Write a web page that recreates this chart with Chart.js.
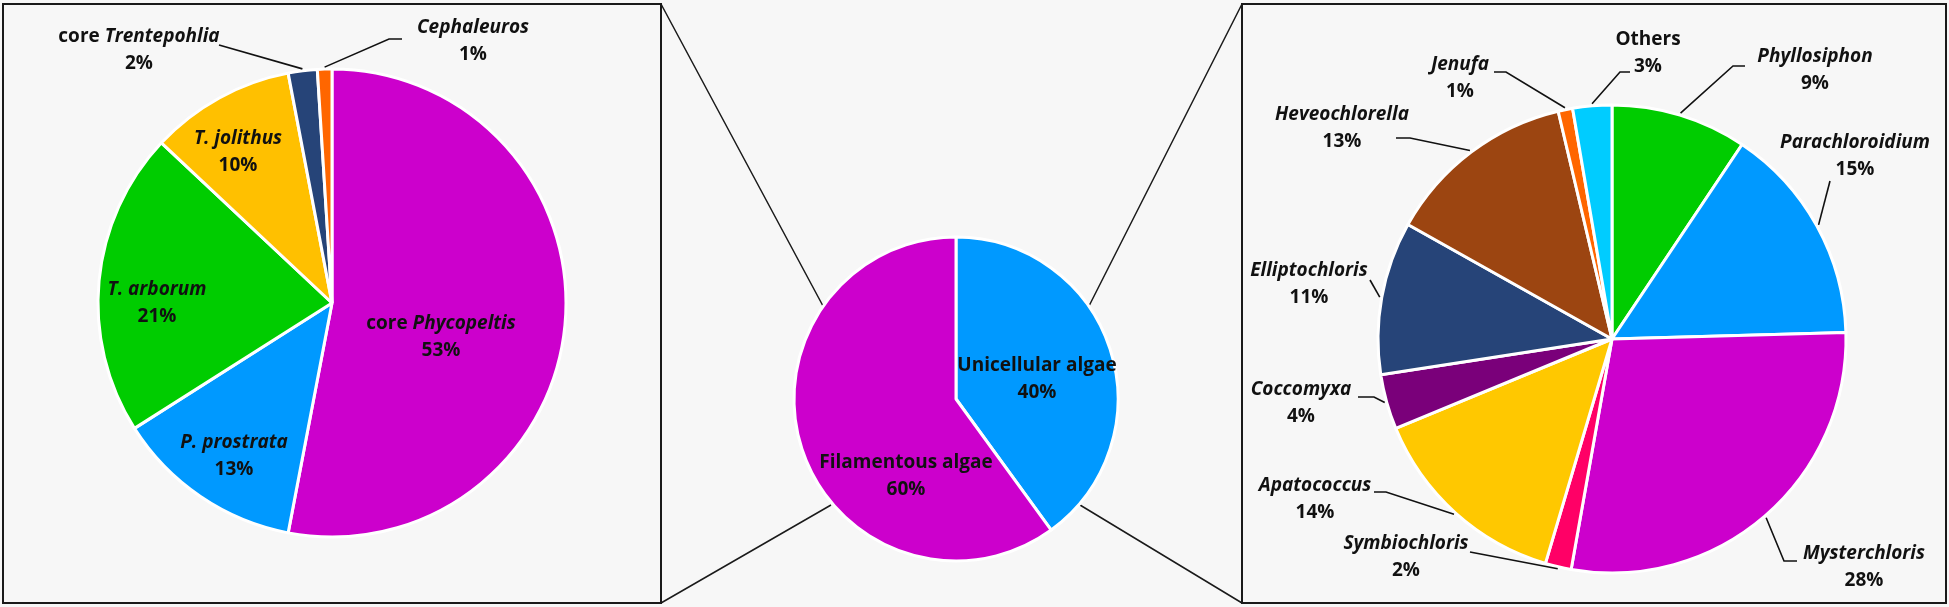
<!DOCTYPE html>
<html><head><meta charset="utf-8">
<script src="https://cdn.jsdelivr.net/npm/chart.js@4.4.1/dist/chart.umd.min.js"></script>
<style>
html,body{margin:0;padding:0;background:#f7f7f7;width:1949px;height:607px;overflow:hidden}
canvas{position:absolute;left:0;top:0}
</style></head><body>
<canvas id="cFrame" width="1949" height="607"></canvas>
<canvas id="cLeft" width="1949" height="607"></canvas>
<canvas id="cCenter" width="1949" height="607"></canvas>
<canvas id="cRight" width="1949" height="607"></canvas>
<script>
// ---------- DATA ----------
const centerLabels = ['Unicellular algae', 'Filamentous algae'];
const centerValues = [40, 60];

const leftLabels = ['core *Phycopeltis*', '*P. prostrata*', '*T. arborum*', '*T. jolithus*', 'core *Trentepohlia*', '*Cephaleuros*'];
const leftValues = [53, 13, 21, 10, 2, 1];

const rightLabels = ['*Phyllosiphon*', '*Parachloroidium*', '*Mysterchloris*', '*Symbiochloris*', '*Apatococcus*', '*Coccomyxa*', '*Elliptochloris*', '*Heveochlorella*', '*Jenufa*', 'Others'];
const rightValues = [9.4, 15.2, 28.3, 1.8, 14.2, 3.8, 10.6, 13.2, 1.0, 2.7];

// ---------- STYLE / LAYOUT ----------
const W = 1949, H = 607;
const centerColors = ['#0099ff', '#cc00cc'];
const leftColors = ['#cc00cc', '#0099ff', '#00cc00', '#ffc000', '#264478', '#ff6600'];
const rightColors = ['#00cc00', '#0099ff', '#cc00cc', '#ff0066', '#ffc800', '#7a007a', '#264478', '#9c4511', '#ff6600', '#00ccff'];

const FONT_FAMILY = '"Open Sans", Lato, sans-serif';
const FONT_SIZE = 19;
const LINE_GAP = 27;

const leftLayout = {
  cx: 332, cy: 303, r: 234,
  pos: [[441, 324], [234, 443], [157, 290], [238, 139], [139, 37], [473, 28]],
  leaders: [null, null, null, null, [[219, 45]], [[402, 39], [389, 39]]]
};
const centerLayout = {
  cx: 956, cy: 399, r: 162,
  pos: [[1037, 366], [906, 463]],
  leaders: [null, null]
};
const rightLayout = {
  cx: 1612, cy: 339, r: 234,
  pos: [[1815, 57], [1855, 143], [1864, 554], [1406, 544], [1315, 486], [1301, 390], [1309, 271], [1342, 115], [1460, 65], [1648, 40]],
  leaders: [
    [[1745, 66], [1733, 66]],
    [[1830, 181]],
    [[1797, 561], [1784, 561]],
    [[1470, 552]],
    [[1374, 492], [1386, 492]],
    [[1358, 397], [1374, 397]],
    [[1370, 280]],
    [[1396, 138], [1410, 138]],
    [[1494, 72], [1506, 72]],
    [[1630, 72], [1620, 72]]
  ]
};

function segments(raw) {
  const parts = raw.split('*');
  const out = [];
  parts.forEach((p, i) => { if (p.length) out.push({ text: p, italic: i % 2 === 1 }); });
  return out;
}
function fontFor(italic) {
  return (italic ? 'italic ' : '') + 'bold ' + FONT_SIZE + 'px ' + FONT_FAMILY;
}
function drawSegText(ctx, segs, cx, cy) {
  let total = 0;
  segs.forEach(s => { ctx.font = fontFor(s.italic); s.w = ctx.measureText(s.text).width; total += s.w; });
  let x = cx - total / 2;
  ctx.textAlign = 'left';
  segs.forEach(s => { ctx.font = fontFor(s.italic); ctx.fillText(s.text, x, cy); x += s.w; });
}

const labelPlugin = {
  id: 'pieLabels',
  afterDatasetsDraw(chart, args, opts) {
    const ctx = chart.ctx;
    const meta = chart.getDatasetMeta(0);
    const values = chart.data.datasets[0].data;
    ctx.save();
    ctx.fillStyle = '#111';
    ctx.textBaseline = 'middle';
    ctx.strokeStyle = '#111';
    ctx.lineWidth = 1.6;
    meta.data.forEach((arc, i) => {
      const p = opts.pos[i];
      const lead = opts.leaders[i];
      if (lead) {
        const a = arc.getProps(['x', 'y', 'startAngle', 'endAngle', 'outerRadius'], true);
        const mid = (a.startAngle + a.endAngle) / 2;
        const ex = a.x + Math.cos(mid) * (a.outerRadius + 2);
        const ey = a.y + Math.sin(mid) * (a.outerRadius + 2);
        ctx.beginPath();
        ctx.moveTo(lead[0][0], lead[0][1]);
        for (let k = 1; k < lead.length; k++) ctx.lineTo(lead[k][0], lead[k][1]);
        ctx.lineTo(ex, ey);
        ctx.stroke();
      }
      drawSegText(ctx, segments(opts.raw[i]), p[0], p[1]);
      drawSegText(ctx, [{ text: Math.round(values[i]) + '%', italic: false }], p[0], p[1] + LINE_GAP);
    });
    ctx.restore();
  }
};

function makePie(id, labels, values, colors, L) {
  return new Chart(document.getElementById(id), {
    type: 'pie',
    data: {
      labels: labels.map(l => l.replace(/\*/g, '')),
      datasets: [{ data: values, backgroundColor: colors, borderColor: '#ffffff', borderWidth: 3, hoverOffset: 0, offset: 0 }]
    },
    options: {
      responsive: false, animation: false, events: [],
      radius: L.r,
      layout: { padding: { left: L.cx - L.r, right: W - L.cx - L.r, top: L.cy - L.r, bottom: H - L.cy - L.r } },
      plugins: {
        legend: { display: false }, tooltip: { enabled: false }, title: { display: false },
        pieLabels: { raw: labels, pos: L.pos, leaders: L.leaders }
      }
    },
    plugins: [labelPlugin]
  });
}

// frame: boxes and connector lines
(function () {
  const ctx = document.getElementById('cFrame').getContext('2d');
  ctx.strokeStyle = '#1a1a1a';
  ctx.lineWidth = 2;
  ctx.strokeRect(3, 4, 658, 599);
  ctx.strokeRect(1242, 4, 704, 599);
  ctx.lineWidth = 1.5;
  ctx.beginPath();
  ctx.moveTo(661, 4); ctx.lineTo(823, 306);
  ctx.moveTo(661, 603); ctx.lineTo(831, 505);
  ctx.moveTo(1242, 4); ctx.lineTo(1089, 306);
  ctx.moveTo(1242, 603); ctx.lineTo(1080, 505);
  ctx.stroke();
})();

makePie('cLeft', leftLabels, leftValues, leftColors, leftLayout);
makePie('cCenter', centerLabels, centerValues, centerColors, centerLayout);
makePie('cRight', rightLabels, rightValues, rightColors, rightLayout);
</script>
</body></html>
